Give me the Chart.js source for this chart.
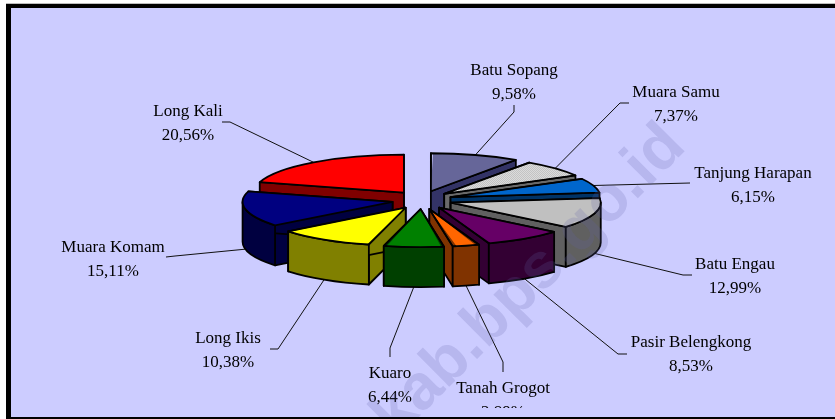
<!DOCTYPE html>
<html>
<head>
<meta charset="utf-8">
<style>html,body{margin:0;padding:0;background:#fff}canvas{display:block}</style>
<script src="https://cdn.jsdelivr.net/npm/chart.js@4"></script>
</head>
<body>
<div style="width:835px;height:419px"><canvas id="c" width="835" height="419"></canvas></div>
<script>
const categories = ["Batu Sopang","Muara Samu","Tanjung Harapan","Batu Engau","Pasir Belengkong","Tanah Grogot","Kuaro","Long Ikis","Muara Komam","Long Kali"];
const values = [9.58,7.37,6.15,12.99,8.53,2.89,6.44,10.38,15.11,20.56];
const valueLabels = ["9,58%","7,37%","6,15%","12,99%","8,53%","2,89%","6,44%","10,38%","15,11%","20,56%"];
const topColors = ["#666699","#dotted","#0066CC","#C0C0C0","#660066","#FF6600","#008000","#FFFF00","#000080","#FF0000"];
const sideColors = ["#333366","#6a6a6a","#003366","#606060","#330033","#803300","#004000","#808000","#000040","#800000"];
const labelCenters = [514,676,753,735,691,503,390,228,113,188];
const labelBaselines = [75,97,178,269,347,393,378,343,252,116];
const labelAnchors = [[514,112,514,105],[620,103,629,103],[690,183,690,183],[683,275,692,275],[618,354,627,354],[503,362,503,372],[390,348,390,357],[278,349,270,349],[175,256,166,257],[230,122,222,122]];

const Y_RATIO = 0.253, DEPTH = 40, EXPLODE_Y_EXTRA = 1.6;

function tile(a,b){
  const t=document.createElement('canvas');t.width=2;t.height=2;
  const g=t.getContext('2d');g.fillStyle=b;g.fillRect(0,0,2,2);
  g.fillStyle=a;g.fillRect(0,0,1,1);g.fillRect(1,1,1,1);
  const p=g.createPattern(t,'repeat');
  p.setTransform(new DOMMatrix().scale(1,1/Y_RATIO));
  return p;
}
const dotted = tile('#ffffff','#a0a0a0');
const fills = topColors.map(c=>c==="#dotted"?dotted:c);

const pie3d = {
  id:'pie3d',
  beforeDraw(chart){
    const c=chart.ctx;
    c.save();
    c.fillStyle='#fff';c.fillRect(0,0,835,419);
    c.fillStyle='#CCCCFF';c.fillRect(6,4,829,415);
    c.fillStyle='#bdbdbd';c.fillRect(6,3,829,1);
    c.fillStyle='#000';c.fillRect(6,4,829,4);c.fillRect(6,4,5,415);c.fillRect(6,417,829,2);
    c.restore();
  },
  beforeDatasetDraw(chart){
    const c=chart.ctx, arcs=chart.getDatasetMeta(0).data;
    const geo=arcs.map((a,i)=>{
      const half=(a.startAngle+a.endAngle)/2, off=a.options.offset/4;
      const ax=a.x+Math.cos(half)*off;
      const ay=a.y+(Math.sin(half)*off)*Y_RATIO+Math.sin(half)*EXPLODE_Y_EXTRA;
      return {a,i,half,ax,ay,off,r:a.outerRadius};
    });
    c.save();
    c.strokeStyle='#111';c.lineWidth=1;
    geo.forEach(g=>{
      const sx=g.ax+g.r*Math.cos(g.half);
      let sy=g.ay+g.r*Y_RATIO*Math.sin(g.half);
      if(Math.sin(g.half)>0) sy+=DEPTH;
      const l=labelAnchors[g.i];
      c.beginPath();c.moveTo(sx,sy);c.lineTo(l[0],l[1]);c.lineTo(l[2],l[3]);c.stroke();
    });
    c.restore();
    c.save();
    c.beginPath();c.rect(11,8,824,400);c.clip();
    c.fillStyle='#000';c.font='17px "Liberation Serif"';c.textAlign='center';c.textBaseline='alphabetic';
    categories.forEach((n,i)=>{
      c.fillText(n,labelCenters[i],labelBaselines[i]);
      c.fillText(valueLabels[i],labelCenters[i],labelBaselines[i]+23.5);
    });
    c.restore();
    const order=geo.slice().sort((p,q)=>p.ay-q.ay);
    c.save();
    c.lineJoin='round';c.lineWidth=1.8;c.strokeStyle='#000';
    order.forEach(g=>{
      const {a,i,ax,ay,r,off}=g, ry=r*Y_RATIO;
      const pt=t=>[ax+r*Math.cos(t),ay+ry*Math.sin(t)];
      const side=sideColors[i];
      [a.startAngle,a.endAngle].forEach(t=>{
        const p=pt(t);
        c.beginPath();c.moveTo(ax,ay);c.lineTo(p[0],p[1]);c.lineTo(p[0],p[1]+DEPTH);c.lineTo(ax,ay+DEPTH);c.closePath();
        c.fillStyle=side;c.fill();c.stroke();
      });
      const s=Math.max(a.startAngle,0), e=Math.min(a.endAngle,Math.PI);
      if(e>s){
        c.beginPath();c.ellipse(ax,ay,r,ry,0,s,e);c.ellipse(ax,ay+DEPTH,r,ry,0,e,s,true);c.closePath();
        c.fillStyle=side;c.fill();c.stroke();
      }
      c.save();
      c.translate(0,Math.sin(g.half)*EXPLODE_Y_EXTRA);
      c.translate(a.x,a.y);c.scale(1,Y_RATIO);c.translate(-a.x,-a.y);
      // Chart.js grows narrow offset arcs by offset*(1-sin(circumference)); cancel that so all slices share one radius
      const growth=off*(1-Math.sin(Math.min(Math.PI,a.circumference)));
      const keep=a.outerRadius;
      a.outerRadius=keep-growth;
      a.draw(c);
      a.outerRadius=keep;
      c.restore();
      c.beginPath();c.moveTo(ax,ay);c.ellipse(ax,ay,r,ry,0,a.startAngle,a.endAngle);c.closePath();c.stroke();
    });
    c.restore();
    return false;
  },
  afterDraw(chart){
    const c=chart.ctx;
    c.save();
    c.beginPath();c.rect(11,8,824,409);c.clip();
    c.translate(396,440);c.rotate(-Math.PI/4);
    c.fillStyle='rgba(100,100,170,0.2)';
    c.font='bold 64px "Liberation Sans"';c.textAlign='left';
    c.fillText('kab.bps.go.id',0,0);
    c.restore();
  }
};

new Chart(document.getElementById('c'),{
  type:'pie',
  data:{labels:categories,datasets:[{data:values,backgroundColor:fills,borderWidth:0,offset:120,radius:150}]},
  options:{
    responsive:false,animation:false,
    layout:{padding:{left:9,bottom:19,right:0,top:0}},
    plugins:{legend:{display:false},tooltip:{enabled:false},title:{display:false}}
  },
  plugins:[pie3d]
});
</script>
</body>
</html>
